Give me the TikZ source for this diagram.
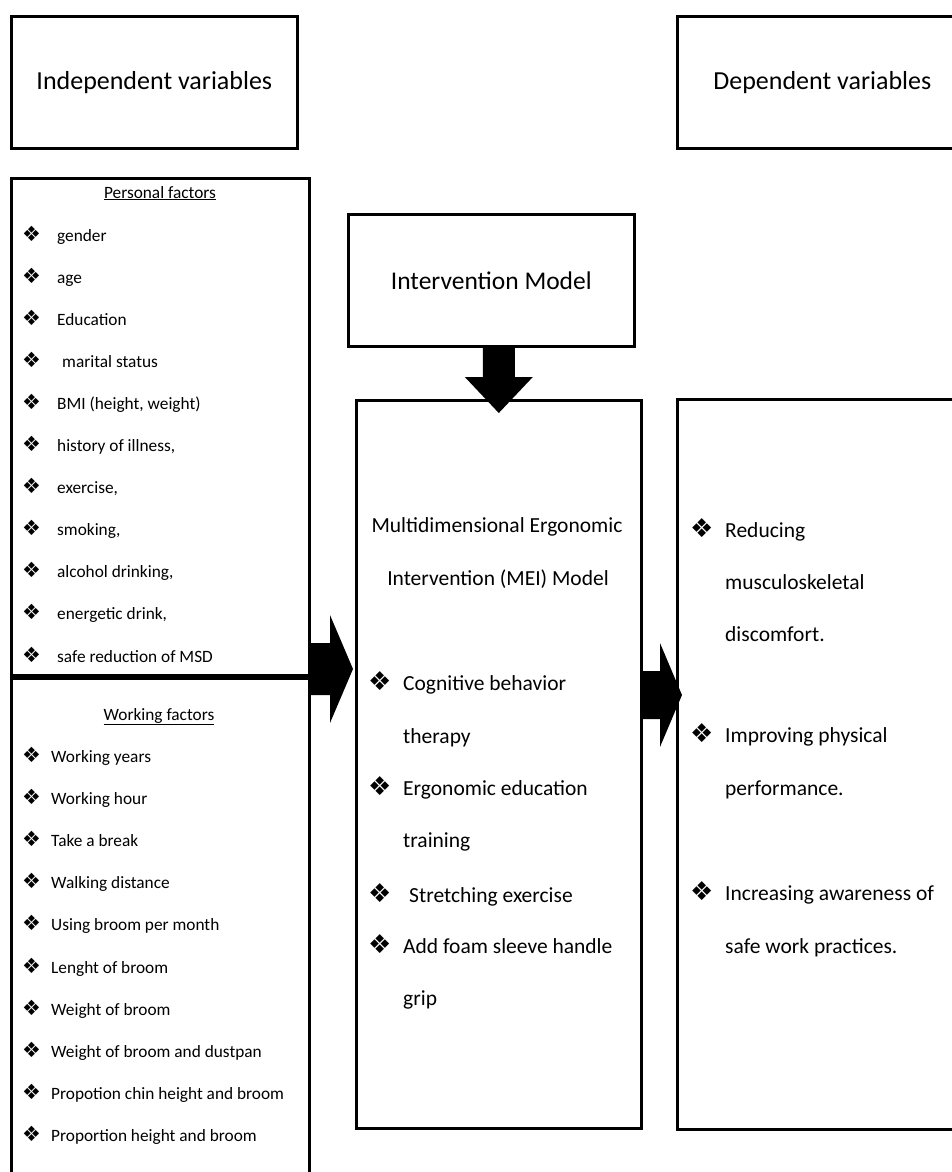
\documentclass[tikz,border=0pt]{standalone}
\usepackage{fontspec}
\setmainfont{Carlito}
\newfontfamily\symfont{DejaVu Sans}
\usetikzlibrary{calc}

\tikzset{
  box/.style={draw=black, line width=2.6pt, rectangle, anchor=north west, inner sep=0pt},
  headtext/.style={font=\fontsize{26}{30}\selectfont},
  small/.style={font=\fontsize{17.3}{20}\selectfont, anchor=base west, inner sep=0pt},
  smallhead/.style={font=\fontsize{17.3}{20}\selectfont, anchor=base, inner sep=0pt},
  large/.style={font=\fontsize{21.5}{26}\selectfont, anchor=base west, inner sep=0pt},
  largehead/.style={font=\fontsize{21.5}{26}\selectfont, anchor=base, inner sep=0pt},
  bul/.style={font=\symfont\fontsize{#1}{#1}\selectfont, anchor=base west, inner sep=0pt},
  blockarrow/.style={fill=black, draw=none}
}

% horizontal block arrow: #1 start, #2 tip, #3 shaft half-height, #4 head half-height, #5 head length
\newcommand\harrow[5]{%
  \fill[blockarrow] let \p1=(#1), \p2=(#2) in
    (\x1,\y1+#3) -- (\x2-#5,\y1+#3) -- (\x2-#5,\y1+#4) -- (\x2,\y2)
    -- (\x2-#5,\y1-#4) -- (\x2-#5,\y1-#3) -- (\x1,\y1-#3) -- cycle;}
% vertical (downward) block arrow
\newcommand\varrow[5]{%
  \fill[blockarrow] let \p1=(#1), \p2=(#2) in
    (\x1-#3,\y1) -- (\x1-#3,\y2+#5) -- (\x1-#4,\y2+#5) -- (\x2,\y2)
    -- (\x1+#4,\y2+#5) -- (\x1+#3,\y2+#5) -- (\x1+#3,\y1) -- cycle;}

\begin{document}
\begin{tikzpicture}[x=1pt,y=-1pt]
\useasboundingbox (0,0) rectangle (951,1172);

% headings
\node[box, headtext, minimum width=286pt, minimum height=132pt] (indep) at (10,15) {Independent variables};
\node[box, headtext, minimum width=290pt, minimum height=132pt] (dep) at (676,15) {Dependent variables};

% left column: personal and working factors
\node[box, minimum width=298pt, minimum height=497pt] (pf) at (10,177) {};
\node[box, minimum width=298pt, minimum height=520pt] (wf) at (10,677) {};

\node[smallhead] (pft) at (160,198) {\underline{Personal factors}};
\foreach \t/\x [count=\i from 0] in {gender/57, age/57, Education/57, marital status/62,
    {BMI (height, weight)}/57, {history of illness,}/57, {exercise,}/57, {smoking,}/57,
    {alcohol drinking,}/57, {energetic drink,}/57, safe reduction of MSD/57}{
  \node[bul=21] (pb\i) at (22,241+42.1*\i) {❖};
  \node[small] (pi\i) at (\x,241+42.1*\i) {\t};
}

\node[smallhead] (wft) at (159,720) {\underline{Working factors}};
\foreach \t [count=\i from 0] in {Working years, Working hour, Take a break, Walking distance,
    Using broom per month, Lenght of broom, Weight of broom, Weight of broom and dustpan,
    Propotion chin height and broom, Proportion height and broom}{
  \node[bul=21] (wb\i) at (22,762+42.2*\i) {❖};
  \node[small] (wi\i) at (51,762+42.2*\i) {\t};
}

% intervention model
\node[box, font=\fontsize{25.5}{30}\selectfont, minimum width=286pt, minimum height=132pt] (im) at (347,213) {Intervention Model};
\node[box, minimum width=285pt, minimum height=728pt] (mei) at (355,399) {};

\node[largehead] (mt1) at (497,532) {Multidimensional Ergonomic};
\node[largehead] (mt2) at (498,585) {Intervention (MEI) Model};

\node[bul=26] (mb1) at (368,690) {❖};
\node[large] (m1a) at (403,690) {Cognitive behavior};
\node[large] (m1b) at (403,743) {therapy};
\node[bul=26] (mb2) at (368,795) {❖};
\node[large] (m2a) at (403,795) {Ergonomic education};
\node[large] (m2b) at (403,847) {training};
\node[bul=26] (mb3) at (368,902) {❖};
\node[large] (m3a) at (409,902) {Stretching exercise};
\node[bul=26] (mb4) at (368,953) {❖};
\node[large] (m4a) at (403,953) {Add foam sleeve handle};
\node[large] (m4b) at (403,1005) {grip};

% outcomes
\node[box, minimum width=290pt, minimum height=730pt] (out) at (676,398) {};

\node[bul=26] (ob1) at (690,537) {❖};
\node[large] (o1a) at (725,537) {Reducing};
\node[large] (o1b) at (725,589) {musculoskeletal};
\node[large] (o1c) at (725,641) {discomfort.};
\node[bul=26] (ob2) at (690,742) {❖};
\node[large] (o2a) at (725,742) {Improving physical};
\node[large] (o2b) at (725,795) {performance.};
\node[bul=26] (ob3) at (690,900) {❖};
\node[large] (o3a) at (725,900) {Increasing awareness of};
\node[large] (o3b) at (725,953) {safe work practices.};

% block arrows between the boxes
\path (0,669) coordinate (lvl1) (0,695) coordinate (lvl2);
\coordinate (a1s) at (pf.east |- lvl1);
\coordinate (a1e) at ($(mei.west |- lvl1)+(-2,0)$);
\harrow{a1s}{a1e}{26pt}{54pt}{23pt}

\coordinate (a2s) at (mei.east |- lvl2);
\coordinate (a2e) at ($(out.west |- lvl2)+(6,0)$);
\harrow{a2s}{a2e}{24pt}{52pt}{22pt}

\coordinate (a3s) at (mei.north |- im.south);
\coordinate (a3e) at ($(mei.north)+(0,14)$);
\varrow{a3s}{a3e}{16pt}{34pt}{36pt}
\end{tikzpicture}
\end{document}
